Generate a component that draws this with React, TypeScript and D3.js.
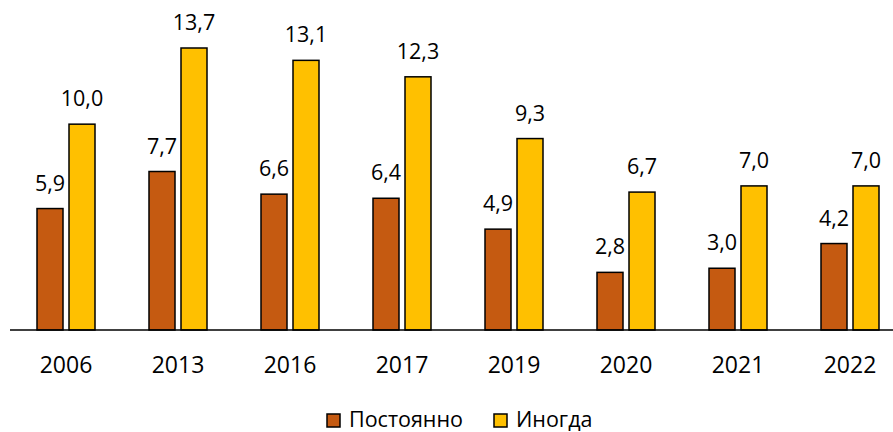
import React from 'react'
import * as d3 from 'd3'

const years = ['2006', '2013', '2016', '2017', '2019', '2020', '2021', '2022']
const constantly = [5.9, 7.7, 6.6, 6.4, 4.9, 2.8, 3.0, 4.2]
const sometimes = [10.0, 13.7, 13.1, 12.3, 9.3, 6.7, 7.0, 7.0]
const seriesNames = ['Постоянно', 'Иногда']
const colors = ['#C55A11', '#FFC000']

const W = 893
const H = 432
const font = '"Open Sans", "Liberation Sans", sans-serif'

const App = () => {
  const x = d3.scaleBand().domain(years).range([10, 906]).paddingInner(0).paddingOuter(0)
  const y = d3.scaleLinear().domain([0, 13.7]).range([330, 48])
  const fmt = (v: number) => d3.format('.1f')(v).replace('.', ',')

  const barW = 26
  const offsets = [-29, 3]
  const series = [constantly, sometimes]

  return (
    <svg width={W} height={H} style={{ position: 'absolute', left: 0, top: 0 }}>
      <rect width={W} height={H} fill="#fff" />
      {series.map((vals, si) =>
        vals.map((v, i) => {
          const cx = x(years[i])! + x.bandwidth() / 2
          return (
            <g key={`${si}-${i}`}>
              <rect
                x={cx + offsets[si]}
                y={y(v)}
                width={barW}
                height={y(0) - y(v)}
                fill={colors[si]}
                stroke="#000"
                strokeWidth={1.5}
              />
              <text
                x={cx + offsets[si] + barW / 2}
                y={y(v) - 18}
                textAnchor="middle"
                fontFamily={font}
                fontSize={21.5}
                fill="#000"
              >
                {fmt(v)}
              </text>
            </g>
          )
        })
      )}
      <line x1={10} x2={893} y1={y(0)} y2={y(0)} stroke="#000" strokeWidth={1.5} />
      {years.map((yr) => (
        <text
          key={yr}
          x={x(yr)! + x.bandwidth() / 2}
          y={373}
          textAnchor="middle"
          fontFamily={font}
          fontSize={23}
          fill="#000"
        >
          {yr}
        </text>
      ))}
      <g>
        {[327, 494].map((lx, i) => (
          <g key={seriesNames[i]}>
            <rect x={lx} y={414} width={13} height={13} fill={colors[i]} stroke="#000" strokeWidth={1.5} />
            <text x={lx + 22} y={427} fontFamily={font} fontSize={21.5} fill="#000">
              {seriesNames[i]}
            </text>
          </g>
        ))}
      </g>
    </svg>
  )
}

export default App
